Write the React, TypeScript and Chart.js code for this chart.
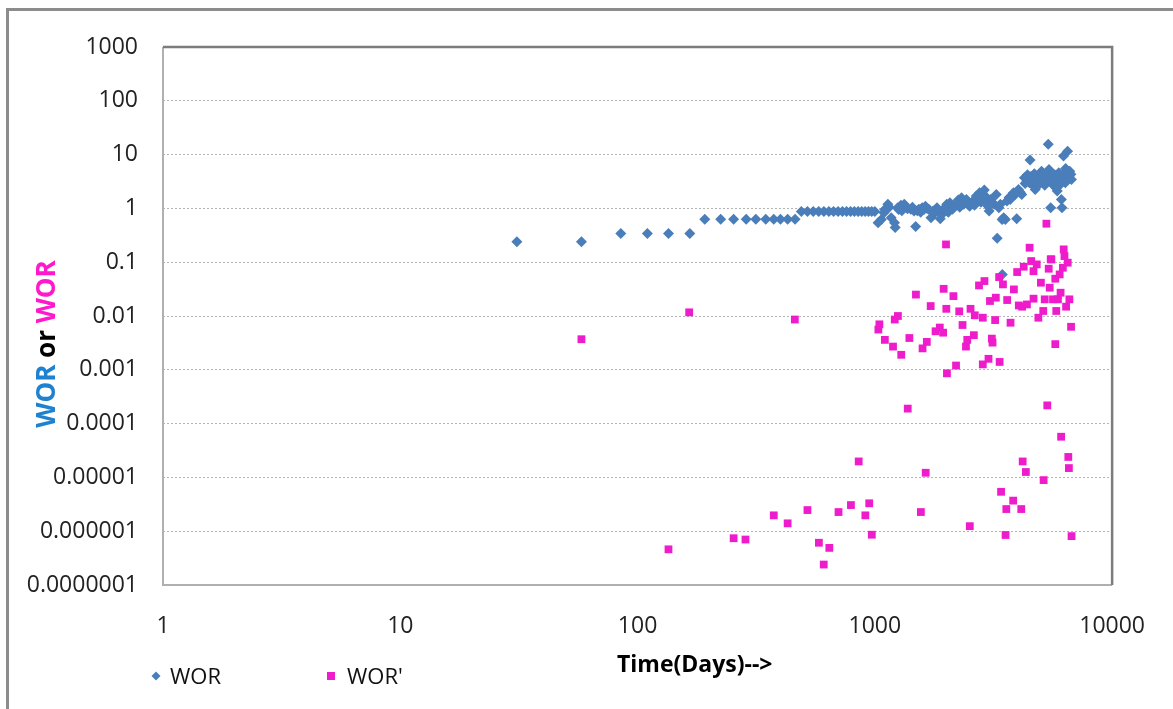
import React, { useEffect, useRef } from 'react';
import { Chart, registerables } from 'chart.js';

Chart.register(...registerables);

// ---- axis ticks ----
const xTickValues = [1, 10, 100, 1000, 10000];
const xTickLabels = ['1', '10', '100', '1000', '10000'];
const yTickValues = [1e-7, 1e-6, 1e-5, 1e-4, 1e-3, 1e-2, 1e-1, 1, 10, 100, 1000];
const yTickLabels = ['0.0000001', '0.000001', '0.00001', '0.0001', '0.001', '0.01', '0.1', '1', '10', '100', '1000'];

// ---- series: WOR ----
const worDays = [
  31, 58, 85, 110, 135, 166, 192, 224, 254, 287, 315, 347, 375, 400, 429, 461,
  490, 520, 550, 580, 610, 640, 670, 700, 730, 760, 790, 820, 850, 880, 910, 940, 970, 1000,
  1032, 1065, 1093, 1118, 1135, 1172, 1210, 1218, 1248, 1288, 1330, 1373, 1418, 1463, 1486,
  1533, 1583, 1634, 1687, 1725, 1759, 1827, 1886, 1916, 1946, 2009, 2073, 2125, 2173, 2245,
  2318, 2370, 2432, 2511, 2592, 2676, 2762, 2832, 2893, 2938, 3031, 3080, 3180, 3248, 3278,
  3330, 3438, 3446, 3491, 3548, 3603, 3719, 3838, 3962, 4030, 4160, 4270, 4370, 4440, 4510,
  4590, 4660, 4740, 4910, 5040, 5160, 5250, 5380, 5420, 5510, 5600, 5690, 5780, 5870, 5960,
  6060, 6110, 6150, 6240, 6300, 6370, 6490, 6530, 6630, 6740,
  1100, 1150, 1260, 1300, 1350, 1440, 1510, 1560, 1610, 1660, 1780, 1850, 1980, 2040, 2100,
  2200, 2280, 2400, 2470, 2550, 2630, 2720, 2800, 2960, 3000, 3120, 3380, 3680, 3900, 4100,
  4300, 4400, 4480, 4550, 4620, 4700, 4800, 4850, 4950, 5100, 5200, 5300, 5460, 5550, 5650,
  5730, 5820, 5900, 6000, 6200, 6350, 6420, 6580, 6700,
];
const worValues = [
  0.24, 0.24, 0.34, 0.34, 0.34, 0.34, 0.63, 0.63, 0.63, 0.63, 0.63, 0.63, 0.63, 0.63, 0.63, 0.63,
  0.88, 0.88, 0.88, 0.88, 0.88, 0.88, 0.88, 0.88, 0.88, 0.88, 0.88, 0.88, 0.88, 0.88, 0.88, 0.88, 0.88, 0.88,
  0.54, 0.62, 0.83, 0.96, 1.19, 0.67, 0.54, 0.44, 1.03, 1.14, 1.19, 0.99, 0.96, 0.89, 0.46,
  0.96, 1.03, 1.10, 0.96, 0.67, 0.89, 1.03, 0.64, 0.77, 0.89, 1.19, 1.27, 0.96, 1.10, 1.43,
  1.58, 1.19, 1.47, 1.10, 1.37, 1.70, 1.95, 1.58, 2.19, 1.27, 0.89, 1.47, 1.19, 1.82, 0.28,
  1.03, 0.62, 0.059, 0.67, 0.62, 1.37, 1.47, 1.95, 0.64, 2.25, 1.82, 3.7, 3.2, 3.5, 7.9,
  2.8, 4.0, 2.25, 3.45, 4.9, 3.0, 3.7, 15.5, 5.3, 1.03, 3.7, 2.6, 3.2, 2.1, 4.6,
  2.8, 1.47, 1.03, 9.4, 3.7, 5.5, 11.6, 4.6, 4.9, 3.45,
  0.95, 1.05, 0.95, 0.9, 1.1, 1.05, 0.9, 0.85, 0.95, 1.0, 0.8, 0.95, 1.05, 0.85, 1.1,
  1.25, 1.05, 1.3, 1.2, 1.25, 1.15, 1.4, 1.3, 1.6, 1.1, 1.3, 1.2, 1.6, 1.8, 2.0,
  2.9, 4.2, 3.0, 3.9, 3.3, 4.4, 3.6, 2.6, 4.1, 3.9, 2.7, 4.3, 3.3, 4.5, 3.0,
  4.2, 2.4, 3.8, 3.4, 4.2, 3.0, 4.4, 3.9, 4.3,
];

// ---- series: WOR' ----
const worPrimeDays = [
  58, 165, 460,
  135, 254, 285, 375, 429, 520, 581, 609, 643, 703, 793, 855, 912, 947, 971,
  1376, 1638, 1563, 2513, 5330, 6095, 6537, 6574, 6745, 4198, 4330, 5144, 3404, 3828, 3582, 4140, 3556,
  1490, 1035, 1045, 1102, 1193, 1292, 1213, 1251, 1398, 1589, 1656, 1719, 1803, 1878, 1940, 1950,
  2013, 2001, 2144, 2199, 2268, 2342, 2421, 2452, 2531, 2614, 2637, 2748, 2851, 2897, 2851, 3013,
  3056, 3112, 3133, 3214, 3235, 3340, 3357, 3467, 3612, 3731, 3855, 3979, 4043, 4240, 4175, 4375,
  4560, 4664, 4664, 4811, 4888, 5010, 5126, 5200, 5404, 5457, 5546, 5635, 5761, 5761, 5816, 5911,
  6010, 6065, 6200, 6297, 6397, 6500, 6605, 6713,
  5285, 4490, 6250, 1995, 5510,
];
const worPrimeValues = [
  0.0037, 0.0117, 0.0086,
  4.6e-7, 7.4e-7, 7.0e-7, 1.97e-6, 1.4e-6, 2.47e-6, 6.1e-7, 2.4e-7, 4.9e-7, 2.27e-6, 3.06e-6, 1.98e-5, 1.97e-6, 3.3e-6, 8.6e-7,
  1.9e-4, 1.22e-5, 2.27e-6, 1.24e-6, 2.18e-4, 5.7e-5, 2.4e-5, 1.49e-5, 8.1e-7, 1.98e-5, 1.26e-5, 8.9e-6, 5.4e-6, 3.7e-6, 2.58e-6, 2.58e-6, 8.5e-7,
  0.025, 0.0056, 0.007, 0.0036, 0.0027, 0.0019, 0.0086, 0.010, 0.0039, 0.0025, 0.0033, 0.0153, 0.0052, 0.0061, 0.0049, 0.032,
  0.00086, 0.0136, 0.0234, 0.0012, 0.0122, 0.0068, 0.0027, 0.0036, 0.0136, 0.0044, 0.0103, 0.037, 0.0093, 0.0446, 0.00126, 0.0016,
  0.019, 0.0038, 0.0032, 0.0084, 0.0219, 0.0529, 0.0014, 0.0387, 0.0198, 0.0075, 0.0312, 0.0656, 0.0157, 0.0824, 0.0149, 0.0164,
  0.105, 0.068, 0.021, 0.091, 0.0093, 0.0416, 0.0124, 0.0204, 0.0757, 0.0336, 0.113, 0.0204, 0.0493, 0.003, 0.0124, 0.0204,
  0.0593, 0.0271, 0.0789, 0.13, 0.0149, 0.098, 0.0204, 0.0063,
  0.52, 0.186, 0.173, 0.214, 0.113,
];

const seriesNames = ['WOR', "WOR'"];
const blue = '#4A7EBB';
const pink = '#EE1CCB';
const tickFont = { family: "'Open Sans', sans-serif", size: 23 };

const decorPlugin = {
  id: 'decor',
  beforeDraw(chart: any) {
    const { ctx } = chart;
    ctx.save();
    ctx.fillStyle = '#8c8c8c';
    ctx.fillRect(6, 8, 1173, 3);
    ctx.fillRect(6, 8, 3, 709);
    ctx.restore();
  },
  beforeDatasetsDraw(chart: any) {
    const { ctx, chartArea: a } = chart;
    ctx.save();
    ctx.lineWidth = 2;
    ctx.strokeStyle = '#b0b0b0';
    ctx.beginPath();
    ctx.moveTo(a.left, a.top);
    ctx.lineTo(a.left, a.bottom);
    ctx.lineTo(a.right, a.bottom);
    ctx.stroke();
    ctx.lineWidth = 2.5;
    ctx.strokeStyle = '#7c7c7c';
    ctx.beginPath();
    ctx.moveTo(a.left, a.top);
    ctx.lineTo(a.right, a.top);
    ctx.lineTo(a.right, a.bottom);
    ctx.stroke();
    ctx.restore();
  },
  afterDraw(chart: any) {
    const { ctx } = chart;
    ctx.save();
    // y axis title (multi-coloured)
    ctx.translate(55, 344);
    ctx.rotate(-Math.PI / 2);
    ctx.font = "bold 26px 'Open Sans', sans-serif";
    ctx.textBaseline = 'alphabetic';
    ctx.textAlign = 'left';
    const parts = [
      { t: 'WOR', c: '#1F82D0' },
      { t: ' or ', c: '#000000' },
      { t: 'WOR', c: '#FF18CC' },
    ];
    const total = parts.reduce((s, p) => s + ctx.measureText(p.t).width, 0);
    let x = -total / 2;
    for (const p of parts) {
      ctx.fillStyle = p.c;
      ctx.fillText(p.t, x, 0);
      x += ctx.measureText(p.t).width;
    }
    ctx.restore();

    ctx.save();
    // x axis title
    ctx.font = "bold 23px 'Open Sans', sans-serif";
    ctx.fillStyle = '#000';
    ctx.textBaseline = 'alphabetic';
    ctx.textAlign = 'left';
    ctx.fillText('Time(Days)-->', 617, 672);

    // legend
    ctx.font = "22px 'Open Sans', sans-serif";
    ctx.fillStyle = blue;
    ctx.beginPath();
    ctx.moveTo(156, 671.5);
    ctx.lineTo(160.5, 676);
    ctx.lineTo(156, 680.5);
    ctx.lineTo(151.5, 676);
    ctx.closePath();
    ctx.fill();
    ctx.fillStyle = '#111';
    ctx.fillText(seriesNames[0], 170, 684);
    ctx.fillStyle = pink;
    ctx.fillRect(327, 672, 8, 8);
    ctx.fillStyle = '#111';
    ctx.fillText(seriesNames[1], 347, 684);
    ctx.restore();
  },
};

export default function App() {
  const ref = useRef<HTMLCanvasElement>(null);
  useEffect(() => {
    if (!ref.current) return;
    const chart = new Chart(ref.current, {
      type: 'scatter',
      data: {
        datasets: [
          {
            label: seriesNames[0],
            data: worDays.map((d, i) => ({ x: d, y: worValues[i] })),
            pointStyle: 'rectRot',
            pointRadius: 5.5,
            pointBackgroundColor: blue,
            pointBorderColor: blue,
            pointBorderWidth: 0,
            showLine: false,
            order: 1,
          },
          {
            label: seriesNames[1],
            data: worPrimeDays.map((d, i) => ({ x: d, y: worPrimeValues[i] })),
            pointStyle: 'rect',
            pointRadius: 5.5,
            pointBackgroundColor: pink,
            pointBorderColor: pink,
            pointBorderWidth: 0,
            showLine: false,
            order: 0,
          },
        ],
      },
      options: {
        animation: false,
        responsive: false,
        events: [],
        layout: { padding: { top: 47, right: 41, left: 0, bottom: 0 } },
        plugins: {
          legend: { display: false },
          tooltip: { enabled: false },
          title: { display: false },
        },
        scales: {
          x: {
            type: 'logarithmic',
            min: 1,
            max: 10000,
            afterBuildTicks: (s: any) => {
              s.ticks = xTickValues.map((v) => ({ value: v }));
            },
            afterFit: (s: any) => {
              s.height = 124;
            },
            ticks: {
              callback: (_v: any, i: number) => xTickLabels[i],
              font: tickFont,
              color: '#222',
              padding: 28,
              autoSkip: false,
              maxRotation: 0,
            },
            grid: { display: false, drawTicks: false },
            border: { display: false },
          },
          y: {
            type: 'logarithmic',
            min: 1e-7,
            max: 1000,
            afterBuildTicks: (s: any) => {
              s.ticks = yTickValues.map((v) => ({ value: v }));
            },
            afterFit: (s: any) => {
              s.width = 163;
            },
            ticks: {
              callback: (_v: any, i: number) => yTickLabels[i],
              font: tickFont,
              color: '#222',
              padding: 25,
              autoSkip: false,
            },
            grid: { color: '#b4b4b4', lineWidth: 1, drawTicks: false },
            border: { display: false, dash: [2, 2] },
          },
        },
      },
      plugins: [decorPlugin],
    });
    return () => chart.destroy();
  }, []);
  return (
    <div style={{ position: 'fixed', left: 0, top: 0, width: 1173, height: 709, background: '#fff' }}>
      <canvas ref={ref} width={1173} height={709} style={{ display: 'block' }} />
    </div>
  );
}
